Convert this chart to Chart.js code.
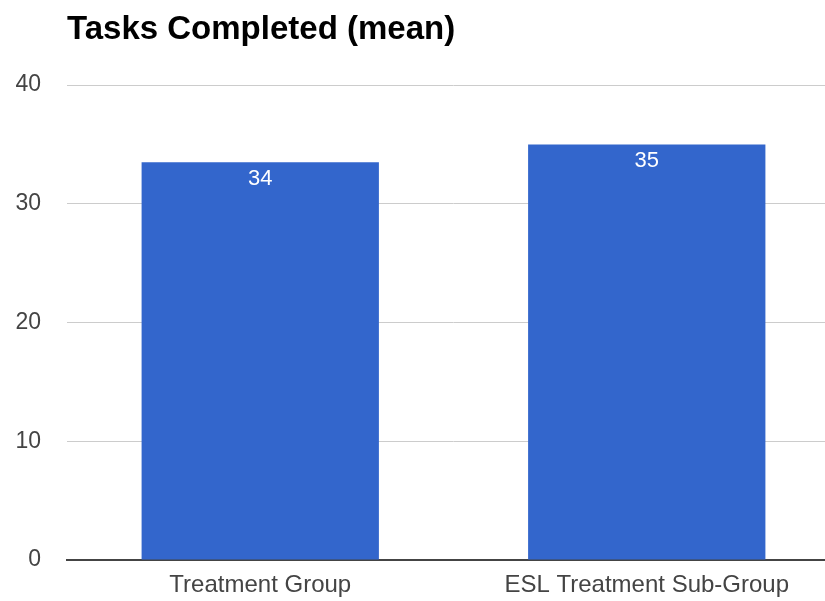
<!DOCTYPE html>
<html>
<head>
<meta charset="utf-8">
<script src="https://cdn.jsdelivr.net/npm/chart.js@4"></script>
<style>
  html, body { margin: 0; padding: 0; background: #fff; overflow: hidden; }
  #wrap { width: 840px; height: 601px; }
</style>
</head>
<body>
<div id="wrap"><canvas id="barChart"></canvas></div>
<script>
// data
const categories = ['Treatment Group', 'ESL Treatment Sub-Group'];
const meanTasks = [33.5, 35.0];
const yTicks = [0, 10, 20, 30, 40];
const titleText = 'Tasks Completed (mean)';

const fontFamily = '"Liberation Sans", Arial, sans-serif';

// title drawn at the left edge of the plot area
const titlePlugin = {
  id: 'leftTitle',
  afterDraw(chart) {
    const { ctx, chartArea } = chart;
    ctx.save();
    ctx.font = 'bold 33px ' + fontFamily;
    ctx.fillStyle = '#000';
    ctx.textBaseline = 'middle';
    ctx.textAlign = 'left';
    ctx.fillText(titleText, chartArea.left, 30);
    ctx.restore();
  }
};

// value labels inside the top of each bar
const valuePlugin = {
  id: 'valueLabels',
  afterDatasetsDraw(chart) {
    const { ctx } = chart;
    const meta = chart.getDatasetMeta(0);
    ctx.save();
    ctx.font = '22px ' + fontFamily;
    ctx.fillStyle = '#fff';
    ctx.textAlign = 'center';
    ctx.textBaseline = 'middle';
    meta.data.forEach((bar, i) => {
      ctx.fillText(Math.round(meanTasks[i]), bar.x, bar.y + 17);
    });
    ctx.restore();
  }
};

const ctxBar = document.getElementById('barChart').getContext('2d');
new Chart(ctxBar, {
  type: 'bar',
  data: {
    labels: categories,
    datasets: [{
      data: meanTasks,
      backgroundColor: '#3366cc',
      borderWidth: 0,
      categoryPercentage: 1,
      barPercentage: 0.614
    }]
  },
  options: {
    responsive: true,
    maintainAspectRatio: false,
    animation: false,
    layout: { padding: { top: 85, right: 0, bottom: 0, left: 0 } },
    plugins: {
      legend: { display: false },
      tooltip: { enabled: false }
    },
    scales: {
      x: {
        grid: { display: false, drawTicks: false },
        border: { color: '#444', width: 2 },
        ticks: {
          color: '#444',
          font: { family: fontFamily, size: 24 },
          padding: 11,
          maxRotation: 0,
          autoSkip: false
        },
        afterFit(axis) { axis.height = 41; }
      },
      y: {
        min: 0,
        max: 40,
        afterBuildTicks(axis) { axis.ticks = yTicks.map(v => ({ value: v })); },
        grid: { color: '#cccccc', lineWidth: 1, drawTicks: false },
        border: { display: false },
        ticks: {
          color: '#444',
          font: { family: fontFamily, size: 23 },
          padding: 26
        },
        afterFit(axis) { axis.width = 67; }
      }
    }
  },
  plugins: [titlePlugin, valuePlugin]
});
</script>
</body>
</html>
